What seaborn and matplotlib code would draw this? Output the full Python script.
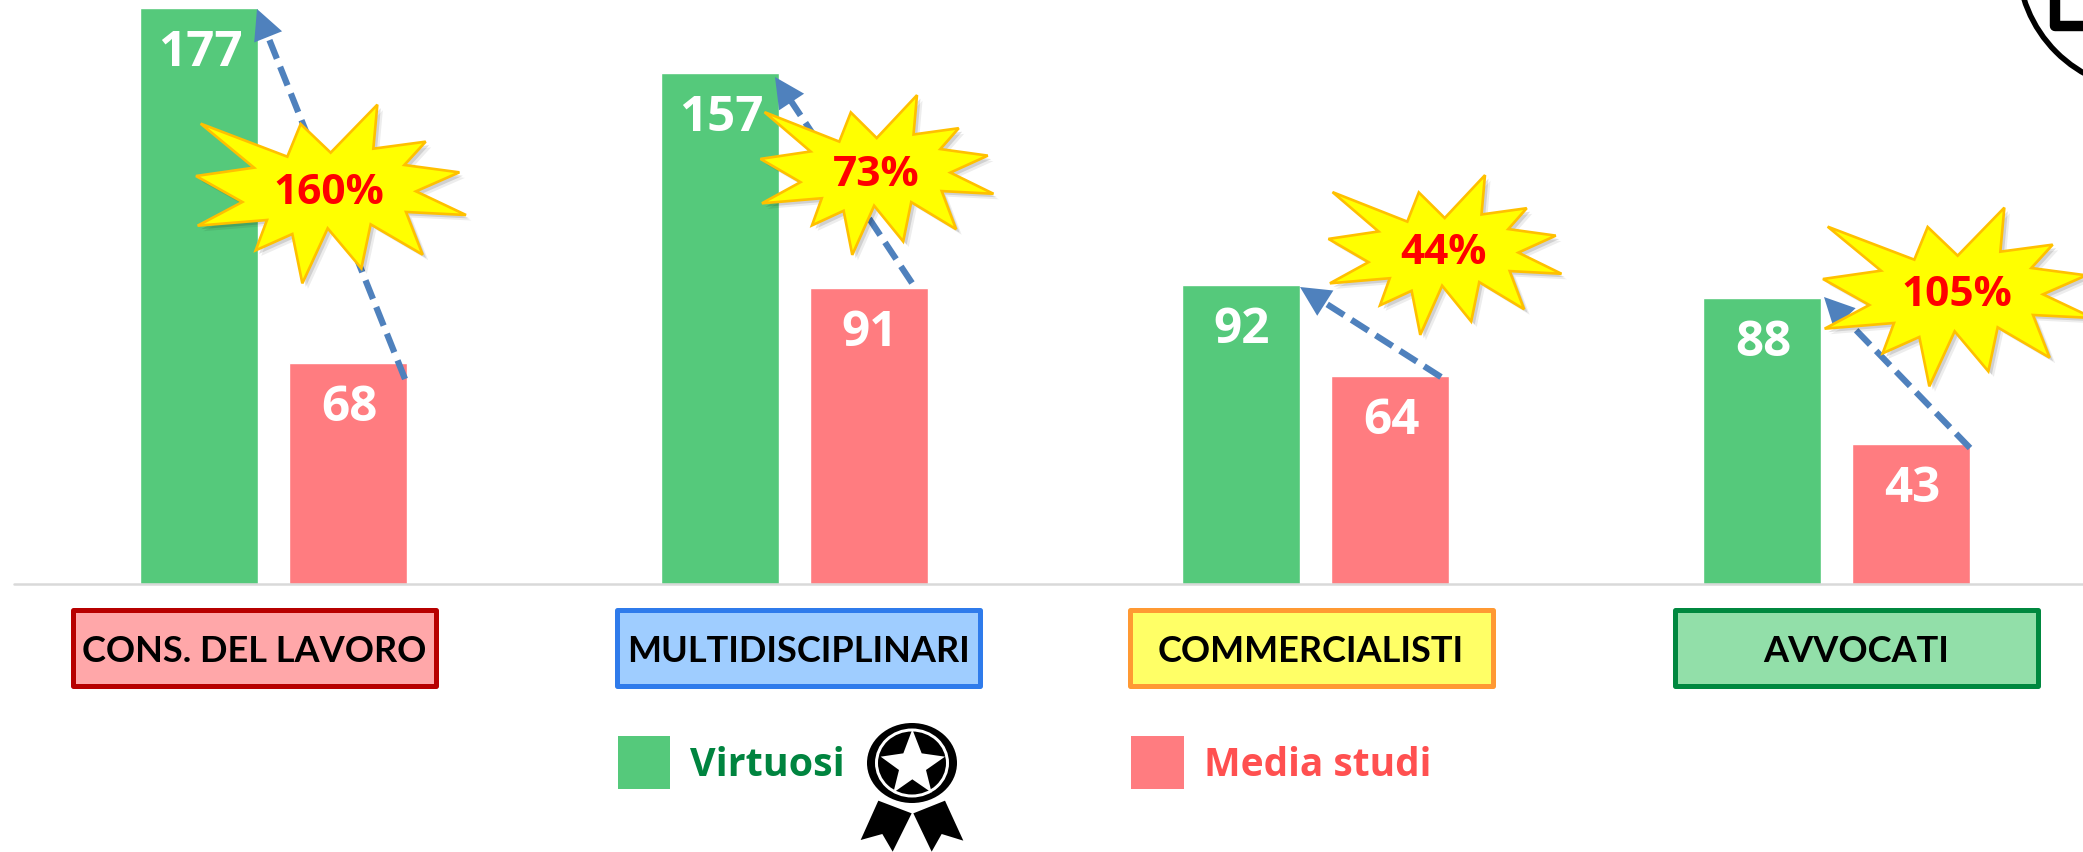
import numpy as np
import pandas as pd
import matplotlib
matplotlib.use('Agg')
import matplotlib.pyplot as plt
import matplotlib.patheffects as pe
from matplotlib.patches import Polygon, Rectangle, Ellipse, Circle
import seaborn as sns

categorie = ['CONS. DEL LAVORO', 'MULTIDISCIPLINARI', 'COMMERCIALISTI', 'AVVOCATI']
virtuosi = [177, 157, 92, 88]
media_studi = [68, 91, 64, 43]
percentuali = ['160%', '73%', '44%', '105%']

colore_virtuosi = '#55C97B'
colore_media = '#FF7C80'
fill_box = ['#FFA7A9', '#9FCDFF', '#FFFF66', '#92DFA9']
bordo_box = ['#B70000', '#2F7BEB', '#FF9933', '#00883F']

W, H = 2083, 852
BASE_Y = 584       # pixel row of the zero line
PX_PER_UNIT = 3.255
GROUP_PX = 521
FIRST_CENTER = 273.5

sns.set_theme(style='white')
plt.rcParams['font.family'] = ['Open Sans', 'DejaVu Sans']

df = pd.DataFrame({
    'categoria': categorie * 2,
    'serie': ['Virtuosi'] * 4 + ['Media studi'] * 4,
    'valore': virtuosi + media_studi,
})

fig = plt.figure(figsize=(W / 100, H / 100), dpi=100, facecolor='white')
ax = fig.add_axes([0, 0, 1, 1])
sns.barplot(data=df, x='categoria', y='valore', hue='serie', order=categorie,
            palette={'Virtuosi': colore_virtuosi, 'Media studi': colore_media},
            width=0.572, gap=0.21, legend=False, saturation=1, ax=ax)
ax.set_xlim(-FIRST_CENTER / GROUP_PX, (W - FIRST_CENTER) / GROUP_PX)
ax.set_ylim(-(H - BASE_Y) / PX_PER_UNIT, BASE_Y / PX_PER_UNIT)
ax.axis('off')

for cont in ax.containers:
    for bar in cont:
        ax.text(bar.get_x() + bar.get_width() / 2 + 0.002, bar.get_height() - 14,
                f'{bar.get_height():.0f}', color='white', fontsize=35.5,
                fontweight='bold', ha='center', va='center')

# overlay in pixel coordinates for the PowerPoint-style decorations
ov = fig.add_axes([0, 0, 1, 1], zorder=5)
ov.set_xlim(0, W)
ov.set_ylim(H, 0)
ov.axis('off')
ov.patch.set_alpha(0)

ov.plot([14, W], [BASE_Y, BASE_Y], color='#D9D9D9', lw=1.8, zorder=1)

# category boxes
box_left = [73, 617, 1130, 1675]
for lab, x0, fc, ec in zip(categorie, box_left, fill_box, bordo_box):
    ov.add_patch(Rectangle((x0, 610), 363, 76, facecolor=fc, edgecolor=ec, lw=3.6,
                           joinstyle='round', zorder=2))
    ov.text(x0 + 181, 651, lab, fontsize=26, fontweight='bold', color='black',
            ha='center', va='center', zorder=3,
            fontfamily=['Lato', 'DejaVu Sans'])

# dashed arrows, tail -> tip
frecce = [((405, 379), (257, 9)), ((912, 283), (775, 77)),
          ((1441, 377), (1300, 287)), ((1970, 448), (1824, 297))]
for (x0, y0), (x1, y1) in frecce:
    d = np.hypot(x1 - x0, y1 - y0)
    ux, uy = (x1 - x0) / d, (y1 - y0) / d
    ov.plot([x0, x1 - ux * 20], [y0, y1 - uy * 20], color='#4F81BD', lw=4.5,
            dashes=(3.2, 1.4), dash_capstyle='butt', zorder=3)
    nx, ny = -uy, ux
    hl, hw = 30, 15
    ov.add_patch(Polygon([(x1, y1),
                          (x1 - ux * hl + nx * hw, y1 - uy * hl + ny * hw),
                          (x1 - ux * hl - nx * hw, y1 - uy * hl - ny * hw)],
                         closed=True, facecolor='#4F81BD', edgecolor='none', zorder=3))

# starburst outline, centred on its own bounding box (px)
burst = np.array([(212, 371), (472, 470), (512, 372), (602, 458), (742, 314), (730, 446),
                  (887, 425), (823, 495), (988, 517), (858, 574), (1008, 645), (828, 636),
                  (878, 764), (722, 673), (694, 805), (593, 685), (517, 850), (487, 702),
                  (377, 751), (411, 660), (203, 677), (337, 606), (198, 528), (372, 503)],
                 dtype=float)
burst = (burst - [603, 582]) / 3
burst_centro = [(331, 194), (877, 175), (1445, 255), (1958, 297)]
burst_scala = [(1, 1), (0.863, 0.894), (0.863, 0.894), (1, 1)]
testo_centro = [(329, 194), (876, 175), (1443, 254), (1957, 296)]
for (cx, cy), sc, pct, (tx, ty) in zip(burst_centro, burst_scala, percentuali, testo_centro):
    pts = burst * sc + [cx, cy]
    p = Polygon(pts, closed=True, facecolor='#FFFF00', edgecolor='#FFC000', lw=1.9,
                joinstyle='miter', zorder=4)
    p.set_path_effects([pe.SimplePatchShadow(offset=(4, -4), shadow_rgbFace='black', alpha=0.07),
                        pe.SimplePatchShadow(offset=(2.5, -2.5), shadow_rgbFace='black', alpha=0.12),
                        pe.Normal()])
    ov.add_patch(p)
    ov.text(tx, ty, pct, color='#FF0000', fontsize=30.5, fontweight='bold',
            ha='center', va='center', zorder=5)

# legend
ov.add_patch(Rectangle((617.5, 736), 52.5, 53, facecolor=colore_virtuosi, edgecolor='none'))
ov.text(690, 776, 'Virtuosi', color='#00843F', fontsize=28.4, fontweight='bold',
        ha='left', va='baseline')
ov.add_patch(Rectangle((1131, 736), 53, 53, facecolor=colore_media, edgecolor='none'))
ov.text(1204, 776, 'Media studi', color='#FF5050', fontsize=28, fontweight='bold',
        ha='left', va='baseline')

# medal next to the Virtuosi label
def mx(pts):
    return [(850 + a / 3, 710 + b / 3) for a, b in pts]

for nastro in ([(85, 272), (185, 310), (128, 425), (97, 372), (32, 390)],
               [(285, 272), (190, 310), (245, 425), (275, 372), (340, 392)]):
    ov.add_patch(Polygon(mx(nastro), closed=True, facecolor='black', edgecolor='none', zorder=6))
for rx, ry, col in [(46.5, 42.5, 'white'), (45, 40, 'black'), (37, 34.5, 'white'), (34, 31.5, 'black')]:
    ov.add_patch(Ellipse((912, 763), 2 * rx, 2 * ry, facecolor=col, edgecolor='none', zorder=6))
stella = [(187, 58), (215, 130), (285, 140), (228, 180), (245, 248),
          (187, 208), (130, 248), (147, 180), (92, 140), (160, 130)]
ov.add_patch(Polygon(mx(stella), closed=True, facecolor='white', edgecolor='none', zorder=6))

# corner icon cut by the picture edge
ov.add_patch(Circle((2148, -40), 130, facecolor='none', edgecolor='black', lw=4, zorder=6))
ov.plot([2055, 2055, W + 5], [-5, 26, 26], color='black', lw=7.5,
        solid_joinstyle='round', solid_capstyle='round', zorder=6)

fig.savefig('out.png', dpi=100)
